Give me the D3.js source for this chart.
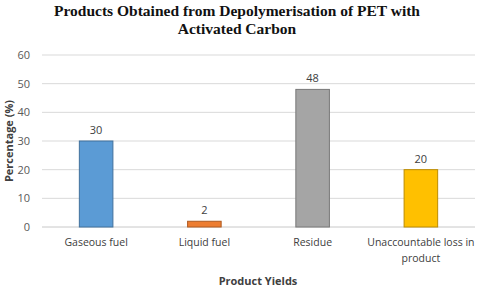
<!DOCTYPE html>
<html>
<head>
<meta charset="utf-8">
<script src="https://cdn.jsdelivr.net/npm/d3@7.9.0/dist/d3.min.js"></script>
<style>
  body { margin: 0; background: #fff; }
  svg { display: block; }
</style>
</head>
<body>
<svg id="chart" width="480" height="287"></svg>
<script>
const categories = ['Gaseous fuel', 'Liquid fuel', 'Residue', 'Unaccountable loss in product'];
const values = [30, 2, 48, 20];
const yTicks = [0, 10, 20, 30, 40, 50, 60];
const fills = ['#5B9BD5', '#ED7D31', '#A5A5A5', '#FFC000'];
const strokes = ['#41719C', '#AE5A21', '#787878', '#BC8C00'];

const svg = d3.select('#chart');
const margin = { left: 42, right: 5, top: 55, bottom: 60 };
const width = 480, height = 287;

const x = d3.scaleBand()
  .domain(categories)
  .range([margin.left, width - margin.right])
  .paddingInner(0.69)
  .paddingOuter(0.345);

const y = d3.scaleLinear()
  .domain([0, 60])
  .range([height - margin.bottom + 0, margin.top]);

// title
const title = svg.append('text')
  .attr('x', 237)
  .attr('font-family', '"Liberation Serif", "Times New Roman", serif')
  .attr('font-weight', 'bold')
  .attr('font-size', 15.5)
  .attr('fill', '#111')
  .attr('text-anchor', 'middle');
title.append('tspan').attr('x', 237).attr('y', 16).text('Products Obtained from Depolymerisation of PET with');
title.append('tspan').attr('x', 237).attr('y', 34).text('Activated Carbon');

// gridlines
svg.append('g')
  .selectAll('line')
  .data(yTicks)
  .join('line')
  .attr('x1', margin.left)
  .attr('x2', width - margin.right)
  .attr('y1', d => y(d))
  .attr('y2', d => y(d))
  .attr('stroke', d => d === 0 ? '#c8c8c8' : '#d9d9d9')
  .attr('stroke-width', 1);

// y axis labels
const yAxis = svg.append('g')
  .attr('transform', `translate(${margin.left},0)`)
  .call(d3.axisLeft(y).tickValues(yTicks).tickSize(0).tickPadding(12));
yAxis.select('.domain').remove();
yAxis.selectAll('text')
  .attr('font-family', '"Open Sans", "Liberation Sans", sans-serif')
  .attr('font-size', 11)
  .attr('fill', '#595959');

// bars
svg.append('g')
  .selectAll('rect')
  .data(values)
  .join('rect')
  .attr('x', (d, i) => x(categories[i]))
  .attr('width', x.bandwidth())
  .attr('y', d => y(d))
  .attr('height', d => y(0) - y(d))
  .attr('fill', (d, i) => fills[i])
  .attr('stroke', (d, i) => strokes[i])
  .attr('stroke-width', 1);

// value labels
svg.append('g')
  .selectAll('text')
  .data(values)
  .join('text')
  .attr('x', (d, i) => x(categories[i]) + x.bandwidth() / 2)
  .attr('y', d => y(d) - 7)
  .attr('text-anchor', 'middle')
  .attr('font-family', '"Open Sans", "Liberation Sans", sans-serif')
  .attr('font-size', 11)
  .attr('fill', '#404040')
  .text(d => d);

// category labels
const xAxis = svg.append('g')
  .attr('transform', `translate(0,${y(0)})`)
  .call(d3.axisBottom(x).tickSize(0).tickPadding(12));
xAxis.select('.domain').remove();
xAxis.selectAll('.tick text')
  .attr('font-family', '"Open Sans", "Liberation Sans", sans-serif')
  .attr('font-size', 10.5)
  .attr('fill', '#404040')
  .each(function(d) {
    if (d === 'Unaccountable loss in product') {
      const t = d3.select(this);
      t.text(null);
      t.append('tspan').attr('x', 0).attr('dy', '0.71em').text('Unaccountable loss in');
      t.append('tspan').attr('x', 0).attr('dy', '1.45em').text('product');
      t.attr('dy', null).attr('y', 12);
    }
  });

// axis titles
svg.append('text')
  .attr('transform', `translate(13,${(y(0) + y(60)) / 2}) rotate(-90)`)
  .attr('text-anchor', 'middle')
  .attr('font-family', '"Open Sans", "Liberation Sans", sans-serif')
  .attr('font-weight', 'bold')
  .attr('font-size', 11)
  .attr('fill', '#404040')
  .text('Percentage (%)');

svg.append('text')
  .attr('x', 258)
  .attr('y', 285)
  .attr('text-anchor', 'middle')
  .attr('font-family', '"Open Sans", "Liberation Sans", sans-serif')
  .attr('font-weight', 'bold')
  .attr('font-size', 11)
  .attr('fill', '#404040')
  .text('Product Yields');
</script>
</body>
</html>
